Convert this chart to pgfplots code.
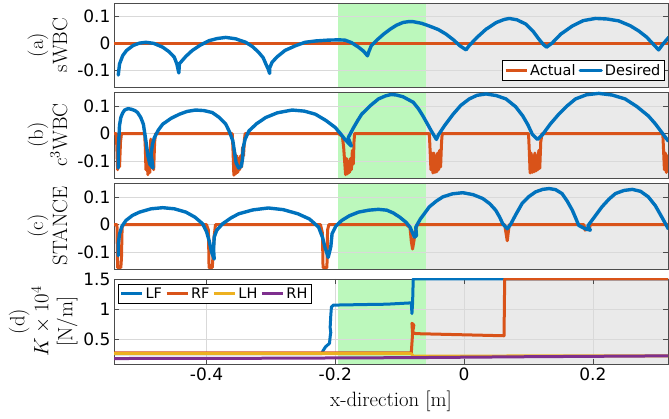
\documentclass[border=0pt]{standalone}
\usepackage{fontspec}
\usepackage{pgfplots}
\pgfplotsset{compat=1.18}
\newfontfamily\dejavu{DejaVu Sans}
\newcommand{\tickfont}{\dejavu\fontsize{17}{17}\selectfont}
\newcommand{\legfont}{\dejavu\fontsize{14.5}{15}\selectfont}
\newcommand{\labfont}{\fontsize{20.74}{24}\selectfont}
\definecolor{mblue}{rgb}{0,0.447,0.741}
\definecolor{morange}{rgb}{0.85,0.325,0.098}
\definecolor{myellow}{rgb}{0.929,0.694,0.125}
\definecolor{mpurple}{rgb}{0.494,0.184,0.556}
\definecolor{bggreen}{RGB}{188,248,188}
\definecolor{bggray}{RGB}{234,234,234}
\pgfplotsset{
 myaxis/.style={
  scale only axis, width=554pt, xmin=-0.5436, xmax=0.3166,
  set layers,
  axis line style={black!70, line width=0.6pt},
  every tick/.style={black!70, line width=0.6pt},
  tick align=inside, major tick length=5pt,
  ytick pos=both,
  ymajorgrids, grid style={black!15, line width=0.5pt},
  yticklabel style={font=\tickfont},
  xticklabel style={font=\tickfont},
  /pgf/number format/assume math mode=true,
  ylabel style={font=\labfont, align=center, at={(axis description cs:-0.0776,0.5)}, anchor=south},
  xlabel style={font=\labfont, yshift=-4pt},
  legend style={font=\legfont, draw=black, line width=0.5pt, fill=white, inner sep=1.5pt,
    /tikz/every even column/.append style={column sep=1pt}},
  legend image code/.code={\draw[##1] (0pt,0pt) -- (21pt,0pt);},
  legend cell align=left,
 },
 topaxis/.style={myaxis, xtick=\empty, ymin=-0.16, ymax=0.15, ytick={-0.1,0,0.1}, yticklabels={-0.1,0,0.1}},
 act/.style={morange, line width=3pt, line join=round},
 des/.style={mblue, line width=3.4pt, line join=round, line cap=round},
}
\newcommand{\bgfill}[2]{%
 \addplot[on layer=axis background, fill=bggreen, draw=none, forget plot] coordinates {(-0.196,#1) (-0.059,#1) (-0.059,#2) (-0.196,#2)} -- cycle;
 \addplot[on layer=axis background, fill=bggray, draw=none, forget plot] coordinates {(-0.059,#1) (0.3166,#1) (0.3166,#2) (-0.059,#2)} -- cycle;
}
\begin{document}
\begin{tikzpicture}
\path (0,0) rectangle (669pt,-419pt);
% (a)
\begin{axis}[topaxis, at={(114pt,-3pt)}, anchor=north west, height=84pt,
  ylabel={(a)\\sWBC},
  legend columns=2, legend style={at={(0.993,0.08)}, anchor=south east}]
\bgfill{-0.16}{0.15}
\addplot[act] coordinates {(-0.55,0) (0.33,0)};
\addlegendentry{Actual}
\addplot[des] coordinates {
(-0.537,-0.116) (-0.535,-0.075) (-0.530,-0.044) (-0.524,-0.025) (-0.514,-0.007) (-0.504,0.002) (-0.494,0.005) (-0.482,0.001) (-0.468,-0.013) (-0.458,-0.030) (-0.450,-0.05) (-0.446,-0.075) (-0.443,-0.108)
(-0.442,-0.074) (-0.432,-0.047) (-0.422,-0.025) (-0.410,-0.006) (-0.396,0.011) (-0.383,0.019) (-0.370,0.023) (-0.355,0.018) (-0.339,0.005) (-0.328,-0.012) (-0.319,-0.032) (-0.312,-0.052) (-0.308,-0.074) (-0.304,-0.095) (-0.302,-0.11)
(-0.302,-0.09) (-0.298,-0.068) (-0.290,-0.048) (-0.278,-0.025) (-0.262,-0.008) (-0.247,0.005) (-0.230,0.010) (-0.211,0.013) (-0.195,0.014) (-0.185,0.013) (-0.175,0.004) (-0.164,-0.013) (-0.156,-0.028) (-0.150,-0.045)
(-0.148,-0.03) (-0.144,-0.007) (-0.135,0.014) (-0.125,0.035) (-0.115,0.053) (-0.105,0.068) (-0.095,0.078) (-0.087,0.081) (-0.079,0.081) (-0.066,0.075) (-0.054,0.065) (-0.040,0.052) (-0.028,0.035) (-0.016,0.013) (-0.007,-0.007) (0.003,-0.023)
(0.008,-0.007) (0.020,0.023) (0.034,0.053) (0.050,0.078) (0.062,0.089) (0.070,0.093) (0.082,0.088) (0.096,0.072) (0.107,0.046) (0.116,0.017) (0.123,-0.003) (0.128,-0.013)
(0.137,0.003) (0.150,0.035) (0.168,0.065) (0.185,0.085) (0.204,0.093) (0.222,0.091) (0.240,0.084) (0.258,0.066) (0.271,0.047) (0.283,0.025) (0.291,0.005) (0.302,-0.023)
(0.309,-0.001) (0.318,0.024)};
\addlegendentry{Desired}
\end{axis}
% (b)
\begin{axis}[topaxis, at={(114pt,-92pt)}, anchor=north west, height=86pt,
  ylabel={(b)\\c$^3$WBC}]
\bgfill{-0.16}{0.15}
\addplot[act] coordinates {
(-0.55,0) (-0.540,0) (-0.539,-0.06) (-0.5380,-0.13) (-0.5365,-0.05) (-0.5350,-0.12) (-0.5335,-0.03) (-0.532,0)
(-0.496,0) (-0.495,-0.05) (-0.4940,-0.13) (-0.4925,-0.07) (-0.4910,-0.148) (-0.4895,-0.06) (-0.4880,-0.14) (-0.4865,-0.02) (-0.4850,-0.12) (-0.4835,-0.06) (-0.4820,-0.13) (-0.4805,-0.03) (-0.479,0)
(-0.360,0) (-0.359,-0.05) (-0.3575,-0.15) (-0.3560,-0.07) (-0.3545,-0.145) (-0.3530,-0.08) (-0.3515,-0.14) (-0.3500,-0.09) (-0.3485,-0.13) (-0.3470,-0.08) (-0.3455,-0.12) (-0.3440,-0.05) (-0.3425,-0.08) (-0.341,-0.02) (-0.340,0)
(-0.195,0) (-0.189,-0.01) (-0.1870,-0.05) (-0.1855,-0.10) (-0.1840,-0.148) (-0.1825,-0.09) (-0.1810,-0.145) (-0.1795,-0.10) (-0.1780,-0.14) (-0.1765,-0.09) (-0.1750,-0.13) (-0.1735,-0.06) (-0.1720,-0.11) (-0.171,-0.03) (-0.170,0)
(-0.054,0) (-0.053,-0.05) (-0.0515,-0.13) (-0.0500,-0.07) (-0.0485,-0.142) (-0.0470,-0.07) (-0.0455,-0.14) (-0.0440,-0.08) (-0.0425,-0.138) (-0.0410,-0.07) (-0.0395,-0.13) (-0.0380,-0.06) (-0.0365,-0.12) (-0.035,-0.03) (-0.034,0)
(0.100,0) (0.101,-0.05) (0.1025,-0.142) (0.1040,-0.07) (0.1055,-0.14) (0.1070,-0.08) (0.1085,-0.138) (0.1100,-0.07) (0.1115,-0.135) (0.1130,-0.08) (0.1145,-0.13) (0.1160,-0.06) (0.1175,-0.125) (0.119,-0.03) (0.121,0)
(0.3085,0) (0.3095,-0.05) (0.3110,-0.13) (0.3125,-0.07) (0.3140,-0.14) (0.3155,-0.08) (0.3170,-0.13)};
\addplot[des] coordinates {
(-0.537,-0.124) (-0.537,-0.06) (-0.536,-0.015) (-0.535,0.03) (-0.533,0.058) (-0.530,0.075) (-0.527,0.085) (-0.522,0.09) (-0.517,0.088) (-0.511,0.083) (-0.507,0.076) (-0.502,0.058) (-0.498,0.034) (-0.494,-0.027) (-0.491,-0.08) (-0.488,-0.11) (-0.483,-0.124)
(-0.486,-0.075) (-0.484,-0.04) (-0.481,-0.015) (-0.475,0.012) (-0.468,0.034) (-0.455,0.055) (-0.442,0.07) (-0.430,0.08) (-0.417,0.085) (-0.404,0.083) (-0.391,0.076) (-0.380,0.058) (-0.370,0.034) (-0.364,0.005) (-0.359,-0.027) (-0.354,-0.105) (-0.350,-0.124) (-0.346,-0.118)
(-0.344,-0.09) (-0.343,-0.051) (-0.340,-0.02) (-0.334,0.01) (-0.322,0.036) (-0.308,0.058) (-0.290,0.075) (-0.267,0.085) (-0.248,0.081) (-0.231,0.07) (-0.215,0.048) (-0.200,0.022) (-0.192,0.0) (-0.185,-0.021) (-0.178,-0.038) (-0.175,-0.045)
(-0.180,-0.015) (-0.172,0.02) (-0.165,0.048) (-0.159,0.07) (-0.146,0.100) (-0.133,0.125) (-0.122,0.136) (-0.113,0.141) (-0.105,0.139) (-0.095,0.133) (-0.079,0.113) (-0.071,0.09) (-0.064,0.064) (-0.057,0.035) (-0.051,0.01) (-0.043,-0.021)
(-0.040,-0.005) (-0.030,0.03) (-0.017,0.07) (-0.005,0.102) (0.008,0.125) (0.020,0.138) (0.034,0.143) (0.050,0.137) (0.065,0.125) (0.080,0.097) (0.091,0.064) (0.099,0.032) (0.106,-0.003) (0.114,-0.021)
(0.122,-0.003) (0.134,0.035) (0.147,0.07) (0.160,0.100) (0.173,0.125) (0.190,0.140) (0.209,0.145) (0.230,0.139) (0.250,0.125) (0.268,0.098) (0.286,0.064) (0.297,0.035) (0.307,0.004) (0.317,-0.027)};
\end{axis}
% (c)
\begin{axis}[topaxis, at={(114pt,-183pt)}, anchor=north west, height=86pt,
  ylabel={(c)\\STANCE}]
\bgfill{-0.16}{0.15}
\addplot[act] coordinates {
(-0.55,0) (-0.539,0) (-0.538,-0.155) (-0.533,-0.155) (-0.532,-0.12) (-0.531,-0.01) (-0.529,0)
(-0.400,0) (-0.397,-0.02) (-0.396,-0.155) (-0.391,-0.155) (-0.388,-0.04) (-0.386,0)
(-0.223,0) (-0.220,-0.03) (-0.219,-0.155) (-0.213,-0.155) (-0.212,-0.02) (-0.210,0)
(-0.090,0) (-0.084,-0.01) (-0.082,-0.06) (-0.080,-0.088) (-0.078,-0.06) (-0.076,-0.03) (-0.073,0)
(0.063,0) (0.065,-0.03) (0.067,-0.058) (0.069,-0.02) (0.070,0)
(0.186,0) (0.188,-0.02) (0.195,-0.01) (0.196,0) (0.33,0)};
\addplot[des] coordinates {
(-0.537,-0.112) (-0.537,-0.07) (-0.535,-0.033) (-0.531,-0.005) (-0.525,0.015) (-0.515,0.033) (-0.504,0.045) (-0.486,0.057) (-0.468,0.061) (-0.450,0.057) (-0.432,0.045) (-0.418,0.027) (-0.406,0.003) (-0.400,-0.025) (-0.396,-0.057) (-0.392,-0.1) (-0.388,-0.124)
(-0.389,-0.09) (-0.388,-0.045) (-0.384,-0.02) (-0.375,0.003) (-0.362,0.024) (-0.350,0.039) (-0.328,0.053) (-0.304,0.06) (-0.281,0.054) (-0.258,0.039) (-0.240,0.02) (-0.226,-0.009) (-0.220,-0.045) (-0.216,-0.082) (-0.211,-0.118)
(-0.207,-0.08) (-0.205,-0.033) (-0.199,-0.005) (-0.190,0.015) (-0.178,0.032) (-0.164,0.045) (-0.148,0.052) (-0.133,0.055) (-0.120,0.052) (-0.110,0.042) (-0.100,0.027) (-0.090,0.008) (-0.084,-0.009) (-0.080,-0.03) (-0.077,-0.045) (-0.074,-0.04)
(-0.075,-0.009) (-0.068,0.02) (-0.060,0.045) (-0.054,0.064) (-0.043,0.085) (-0.033,0.1) (-0.018,0.111) (-0.002,0.115) (0.014,0.108) (0.029,0.094) (0.040,0.075) (0.049,0.052) (0.055,0.028) (0.060,0.003) (0.067,-0.015)
(0.072,0.0) (0.080,0.035) (0.090,0.076) (0.100,0.100) (0.111,0.118) (0.122,0.127) (0.132,0.130) (0.142,0.126) (0.152,0.112) (0.160,0.085) (0.168,0.052) (0.173,0.025) (0.178,-0.003) (0.188,-0.015) (0.196,-0.02)
(0.192,-0.005) (0.200,0.02) (0.214,0.064) (0.225,0.092) (0.235,0.112) (0.248,0.123) (0.261,0.127) (0.274,0.120) (0.286,0.100) (0.297,0.068) (0.307,0.027) (0.317,-0.015)};
\end{axis}
% (d)
\begin{axis}[myaxis, at={(114pt,-279pt)}, anchor=north west, height=85pt,
  ymin=0.1, ymax=1.5, ytick={0.5,1,1.5}, yticklabels={0.5,1,1.5},
  xtick={-0.4,-0.2,0,0.2}, xticklabels={-0.4,-0.2,0,0.2}, xtick pos=both, xmajorgrids,
  xlabel={x-direction [m]},
  ylabel style={at={(axis description cs:-0.0596,0.5)}},
  ylabel={(d)\\$K\times10^4$\\{[N/m]}},
  legend columns=4, legend style={at={(0.007,0.94)}, anchor=north west}]
\bgfill{0.1}{1.5}
\addplot[mblue, line width=3pt, line join=round] coordinates {
(-0.55,0.27) (-0.221,0.27) (-0.219,0.32) (-0.215,0.385) (-0.209,0.44) (-0.208,0.55) (-0.207,0.62) (-0.208,0.7) (-0.207,0.9) (-0.206,1.04) (-0.203,1.07) (-0.15,1.08) (-0.12,1.085) (-0.082,1.107) (-0.081,0.93) (-0.080,1.1) (-0.079,1.5) (0.33,1.5)};
\addlegendentry{LF}
\addplot[morange, line width=3pt, line join=round] coordinates {
(-0.55,0.285) (-0.082,0.285) (-0.080,0.6) (-0.081,0.77) (-0.078,0.74) (-0.080,0.62) (-0.075,0.6) (0.062,0.565) (0.063,1.5) (0.33,1.5)};
\addlegendentry{RF}
\addplot[myellow, line width=3pt, line join=round] coordinates {
(-0.55,0.27) (-0.082,0.27) (-0.079,0.23) (0.33,0.235)};
\addlegendentry{LH}
\addplot[mpurple, line width=3pt, line join=round] coordinates {
(-0.55,0.19) (-0.3,0.195) (-0.08,0.205) (0.1,0.22) (0.33,0.235)};
\addlegendentry{RH}
\end{axis}
\end{tikzpicture}
\end{document}
